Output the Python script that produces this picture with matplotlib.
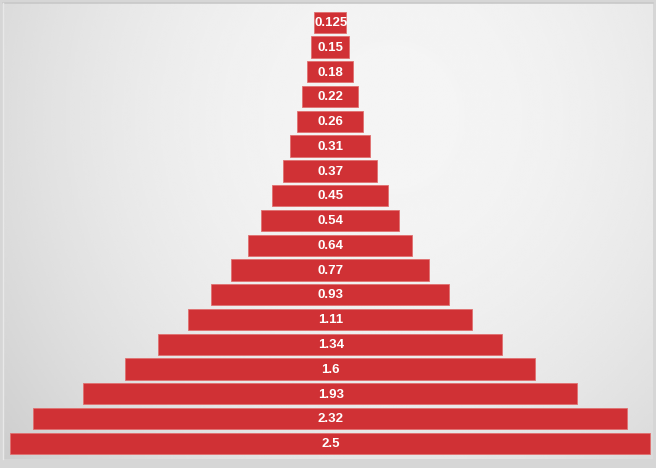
import numpy as np
import matplotlib.pyplot as plt

# pyramid levels, top to bottom
values = [0.125, 0.15, 0.18, 0.22, 0.26, 0.31, 0.37, 0.45, 0.54, 0.64,
          0.77, 0.93, 1.11, 1.34, 1.6, 1.93, 2.32, 2.5]
labels = ["0.125", "0.15", "0.18", "0.22", "0.26", "0.31", "0.37", "0.45", "0.54", "0.64",
          "0.77", "0.93", "1.11", "1.34", "1.6", "1.93", "2.32", "2.5"]

BAR_COLOR = "#d03135"

fig = plt.figure(figsize=(6.56, 4.68), dpi=100)
fig.patch.set_facecolor("#d6d6d6")
ax = fig.add_axes([0, 0, 1, 1])

# pixel mapping: first bar centre at y=22px, last at 443px; x centre 330px, 256px per unit
n = len(values)
px_step = (443.3 - 22.3) / (n - 1)
y_top = -22.3 / px_step
y_bot = (468 - 22.3) / px_step
ax.set_xlim(-330 / 256, 326 / 256)
ax.set_ylim(y_bot, y_top)
ax.axis("off")

# soft radial background inside the frame (3px..653px, 3px..459px)
xl, xr = (3 - 330) / 256, (653 - 330) / 256
yt, yb = (3 - 22.3) / px_step, (459 - 22.3) / px_step
gx, gy = np.meshgrid(np.linspace(-1, 1, 400), np.linspace(-1, 1, 300))
r = np.sqrt(((gx - 0.2) / 1.3) ** 2 + ((gy + 0.5) / 2.0) ** 2)
shade = 0.96 - 0.11 * np.clip(r, 0, 1.2) ** 2
ax.imshow(shade, cmap="gray", vmin=0, vmax=1, extent=(xl, xr, yb, yt),
          aspect="auto", zorder=0, interpolation="bicubic")
ax.plot([xl, xr], [yt, yt], color="#c8c8c8", lw=1.2, zorder=1)
ax.plot([xl, xl], [yt, yb], color="#e8e8e8", lw=1.0, zorder=1)

pos = np.arange(n)
ax.barh(pos, values, left=[-v / 2 for v in values], height=0.86,
        color=BAR_COLOR, edgecolor="#e07070", linewidth=0.6, zorder=2)

for p, lab in zip(pos, labels):
    ax.text(0.003, p + 0.03, lab, ha="center", va="center", color="white",
            fontsize=9.5, fontweight="bold", family="Liberation Sans", zorder=3)

fig.savefig("out.png", dpi=100)
